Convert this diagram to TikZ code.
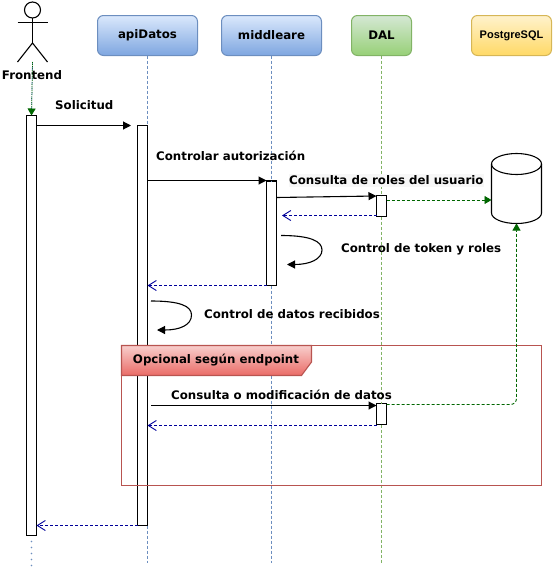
\documentclass[tikz,border=0pt]{standalone}
\usepackage{fontspec}
\setmainfont{DejaVu Sans}
\newfontfamily\dbfont{Liberation Sans}
\usepackage{tikz}
\usetikzlibrary{arrows.meta}

\definecolor{lineBlue}{HTML}{6C8EBF}
\definecolor{lineGreen}{HTML}{82B366}
\definecolor{lineRed}{HTML}{B85450}
\definecolor{lineYellow}{HTML}{D6B656}
\definecolor{retBlue}{HTML}{000099}
\definecolor{dbGreen}{HTML}{006600}

\tikzset{
  lbl/.style={font=\bfseries\fontsize{11.8}{14}\selectfont, inner sep=0pt, text=black},
  head/.style={draw, rounded corners=6pt, minimum height=40pt, outer sep=0pt, inner sep=0pt, line width=1pt, font=\bfseries\fontsize{11.8}{14}\selectfont},
  headBlue/.style={head, minimum width=100pt, draw=lineBlue, top color={rgb,255:red,218;green,232;blue,252}, bottom color={rgb,255:red,126;green,166;blue,224}},
  headGreen/.style={head, minimum width=60pt, draw=lineGreen, top color={rgb,255:red,213;green,232;blue,212}, bottom color={rgb,255:red,151;green,208;blue,119}},
  headYellow/.style={head, minimum width=80pt, draw=lineYellow, top color={rgb,255:red,255;green,242;blue,204}, bottom color={rgb,255:red,255;green,217;blue,102}},
  activ/.style={draw, fill=white, minimum width=10pt, outer sep=0pt, inner sep=0pt, line width=1.1pt},
  life/.style={dash pattern=on 3pt off 2pt, line width=0.8pt},
  call/.style={line width=1.1pt, -{Triangle[length=8pt,width=8pt]}},
  back/.style={retBlue, line width=0.9pt, dash pattern=on 3pt off 2pt, -{Straight Barb[length=8pt,width=10pt]}},
  query/.style={dbGreen, line width=0.9pt, dash pattern=on 3pt off 2pt, -{Triangle[length=7pt,width=8pt]}},
}

\begin{document}
\begin{tikzpicture}[x=1pt,y=-1pt]
        \useasboundingbox (0,0) rectangle (554,570);

        \node [headBlue]   (apiDatos)   at (147.5,35.5) {apiDatos};              %
        \node [headBlue]   (middleare)  at (271.5,35.5) {middleare};             %
        \node [headGreen]  (dal)        at (381.5,35.5) {DAL};                   %
        \node [headYellow] (postgres)   at (511.5,35.5) {\dbfont\bfseries\fontsize{11}{13}\selectfont PostgreSQL}; %

        \coordinate (actorHead)  at (32.5,18);                                   %
        \coordinate (actorHip)   at (32.5,43);                                   %
        \coordinate (actorFoot)  at (32.5,62);                                   %
        \coordinate (frontEnd)   at (31.5,566);                                  %
        \coordinate (apiEnd)     at (147.5,563);                                 %
        \coordinate (midEnd)     at (271.5,563);                                 %
        \coordinate (dalEnd)     at (381.5,563);                                 %

        \node [activ, minimum height=420pt] (barFront) at (31.5,325.5) {};       %Frontend
        \node [activ, minimum height=400pt] (barApi)   at (142.5,325.5) {};      %apiDatos
        \node [activ, minimum height=104.5pt] (barMid) at (271.5,233.25) {};     %middleare
        \node [activ, minimum height=21pt] (barDalA)   at (381.5,206) {};        %DAL 1
        \node [activ, minimum height=21pt] (barDalB)   at (381.5,414) {};        %DAL 2

        \draw [life, lineBlue]  (apiDatos.south) -- ([xshift=5pt]barApi.north);  %
        \draw [life, lineBlue]  ([xshift=5pt]barApi.south) -- (apiEnd);          %
        \draw [life, lineBlue]  (middleare.south) -- (barMid.north);             %
        \draw [life, lineBlue]  (barMid.south) -- (midEnd);                      %
        \draw [life, lineGreen] (dal.south) -- (barDalA.north);                  %
        \draw [life, lineGreen] (barDalA.south) -- (barDalB.north);              %
        \draw [life, lineGreen] (barDalB.south) -- (dalEnd);                     %
        \draw [life, lineBlue]  (actorFoot) -- (barFront.north);                 %
        \draw [lineBlue, line width=1.6pt, line cap=round, dash pattern=on 0pt off 6pt] ([yshift=-6pt]barFront.south) -- (frontEnd); %

        \draw [line width=1.1pt] (32.5,10) circle (8);                           %actor
        \draw [line width=1.1pt] (actorHead) -- (actorHip);                      %
        \draw [line width=1.1pt] (17.5,22.5) -- (47.5,22.5);                     %
        \draw [line width=1.1pt] (17.5,62) -- (actorHip) -- (47.5,62);           %
        \node [lbl] (frontend) at (32,75.5) {Frontend};                          %
        \draw [query, line width=0.7pt, dash pattern=on 1pt off 1pt] (actorFoot) -- (barFront.north); %

        \node [minimum width=50pt, minimum height=70pt, outer sep=0pt, inner sep=0pt] (db) at (516.5,188.5) {}; %
        \draw [line width=1.1pt] ([yshift=-10.5pt]db.north west) arc (180:0:25pt and 10.5pt)
              -- ([yshift=10.5pt]db.south east) arc (0:-180:25pt and 10.5pt) -- cycle;  %
        \draw [line width=1.1pt] ([yshift=-10.5pt]db.north west) arc (180:360:25pt and 10.5pt); %

        \coordinate (solicitudTip) at (131,125.5);                               %
        \draw [call] ([yshift=-10pt]barFront.north east) -- (solicitudTip);      %
        \node [lbl, anchor=west] (solicitud) at (55,105.5) {Solicitud};          %

        \draw [call] ([yshift=-55pt]barApi.north east) -- ([yshift=0.5pt]barMid.north west); %
        \node [lbl, anchor=west] (controlar) at (156,155.5) {Controlar autorización}; %

        \node [lbl, anchor=west, fill=black!3, inner ysep=2pt] (consulta) at (289,180.5) {Consulta de roles del usuario}; %
        \draw [call] ([yshift=-16.5pt]barMid.north east) -- ([yshift=-0.5pt]barDalA.north west); %
        \coordinate (dalOut) at ([yshift=-4.5pt]barDalA.north east);             %
        \draw [query] (dalOut) -- (db.west |- dalOut);                           %
        \coordinate (retMid) at (282,215.5);                                     %
        \draw [back] ([yshift=-20pt]barDalA.north west) -- (retMid);             %

        \coordinate (loopA) at (281,235.5);                                      %
        \coordinate (loopB) at (287,264.5);                                      %
        \draw [call] (loopA) .. controls (310,235.5) and (322,241) .. (322,250)
                     .. controls (322,259) and (310,264.5) .. (loopB);           %
        \node [lbl, anchor=west] (token) at (341,249) {Control de token y roles}; %

        \draw [back] (barMid.south west) -- ([yshift=-160pt]barApi.north east);  %

        \coordinate (loopC) at (151,301);                                        %
        \coordinate (loopD) at (157,330);                                        %
        \draw [call] (loopC) .. controls (180,301) and (191.5,306) .. (191.5,315)
                     .. controls (191.5,325) and (180,330) .. (loopD);           %
        \node [lbl, anchor=west] (datos) at (204,314.5) {Control de datos recibidos}; %

        \draw [lineRed, line width=1.1pt] (121.5,345.5) rectangle (541.5,485.5); %frame
        \draw [lineRed, line width=1.1pt, top color={rgb,255:red,248;green,206;blue,204}, bottom color={rgb,255:red,234;green,107;blue,102}]
              (121.5,345.5) -- (311.5,345.5) -- (311.5,362) -- (301.5,375.5) -- (121.5,375.5) -- cycle; %
        \node [lbl] (opcional) at (216,360.5) {Opcional según endpoint};         %

        \node [lbl] (modif) at (281.5,394.5) {Consulta o modificación de datos}; %
        \coordinate (apiStart) at (151,405.5);                                   %
        \draw [call] (apiStart) -- ([yshift=-2pt]barDalB.north west);            %
        \draw [back] ([yshift=-22pt]barDalB.north west) -- ([yshift=100pt]barApi.south east); %
        \coordinate (corner) at (516.5,404.5);                                   %
        \draw [query, rounded corners=6pt] ([yshift=-1pt]barDalB.north east) -- (corner) -- (db.south); %

        \draw [back] (barApi.south west) -- ([yshift=10pt]barFront.south east);  %
\end{tikzpicture}
\end{document}
